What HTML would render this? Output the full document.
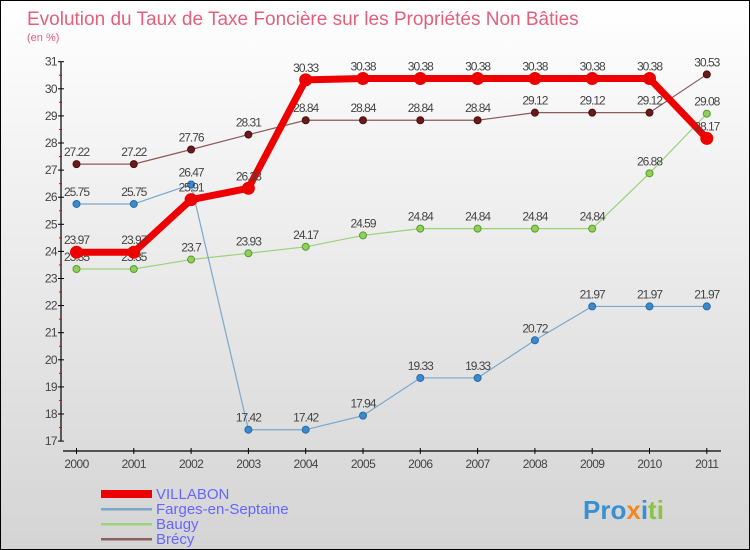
<!DOCTYPE html>
<html><head><meta charset="utf-8"><style>
body{margin:0}
#c{width:750px;height:550px;position:relative;overflow:hidden;box-sizing:border-box;border:1px solid #000;background:linear-gradient(#ffffff,#d4d4d4);font-family:"Liberation Sans",sans-serif}
svg text{font-family:"Liberation Sans",sans-serif}
</style></head><body>
<div id="c">
<svg id="s" width="750" height="550">
<text x="26" y="24" font-size="19" fill="#e3607a">Evolution du Taux de Taxe Foncière sur les Propriétés Non Bâties</text>
<text x="26" y="40" font-size="11" fill="#e3607a">(en %)</text>
<g id="g"></g>
<g>
<rect x="100" y="489" width="51" height="8" fill="#e00"/>
<text x="155" y="498" font-size="15" fill="#6666ff">VILLABON</text>
<rect x="100" y="507" width="51" height="2.5" fill="#7aa8cc"/>
<text x="155" y="513" font-size="15" fill="#6666ff">Farges-en-Septaine</text>
<rect x="100" y="522" width="51" height="2.5" fill="#9cd27a"/>
<text x="155" y="528" font-size="15" fill="#6666ff">Baugy</text>
<rect x="100" y="537" width="51" height="2.5" fill="#8b6060"/>
<text x="155" y="543" font-size="15" fill="#6666ff">Brécy</text>
</g>
<g>
<text x="582" y="518" font-size="26" font-weight="bold"><tspan fill="#3a8fd0">Pro</tspan><tspan fill="#f08a20">x</tspan><tspan fill="#3a8fd0">i</tspan><tspan fill="#8bc43f">ti</tspan></text>
</g>
</svg>
</div>
<script>
const years=[2000,2001,2002,2003,2004,2005,2006,2007,2008,2009,2010,2011];
const yTicks=[17,18,19,20,21,22,23,24,25,26,27,28,29,30,31];
const villabon=[23.97,23.97,25.91,26.33,30.33,30.38,30.38,30.38,30.38,30.38,30.38,28.17];
const farges=[25.75,25.75,26.47,17.42,17.42,17.94,19.33,19.33,20.72,21.97,21.97,21.97];
const baugy=[23.35,23.35,23.7,23.93,24.17,24.59,24.84,24.84,24.84,24.84,26.88,29.08];
const brecy=[27.22,27.22,27.76,28.31,28.84,28.84,28.84,28.84,29.12,29.12,29.12,30.53];
const NS="http://www.w3.org/2000/svg";
const g=document.getElementById('g');
const X=i=>75.5+i*57.3;
const Y=v=>60.7+(31-v)*27.1;
function mk(t,a,p){const e=document.createElementNS(NS,t);for(const k in a)e.setAttribute(k,a[k]);(p||g).appendChild(e);return e;}
let ax=mk('line',{x1:60,y1:Y(31),x2:60,y2:Y(17),stroke:'#000','stroke-width':1.2});


yTicks.forEach(v=>{
 mk('line',{x1:57,x2:63,y1:Y(v),y2:Y(v),stroke:'#000'});
 if(v<31)mk('line',{x1:58,x2:61,y1:Y(v+0.5),y2:Y(v+0.5),stroke:'#e00'});
 const t=mk('text',{x:56,y:Y(v)+4,'font-size':12,fill:'#444','text-anchor':'end','letter-spacing':'-0.6'});
 t.textContent=v;
 
 
});
let bx=mk('line',{x1:62,y1:450,x2:720,y2:450,stroke:'#000','stroke-width':1.2});


years.forEach((y,i)=>{
 mk('line',{x1:X(i),x2:X(i),y1:447,y2:453,stroke:'#000'});
 const t=mk('text',{x:X(i),y:467,'font-size':12,fill:'#444','text-anchor':'middle','letter-spacing':'-0.6'});
 t.textContent=y;
 
 
});
function series(name,data,color,w,r,dot,edge){
 const pts=data.map((v,i)=>X(i)+','+Y(v)).join(' ');
 const l=mk('polyline',{points:pts,fill:'none',stroke:color,'stroke-width':w,'stroke-linejoin':'round'});
 
 
 data.forEach((v,i)=>{
  const c=mk('circle',{cx:X(i),cy:Y(v),r:r,fill:dot,stroke:edge,'stroke-width':1});
  
  
  const t=mk('text',{x:X(i),y:Y(v)-8,'font-size':12,fill:'#444','text-anchor':'middle','letter-spacing':'-1'});
  t.textContent=v;
  
  
 });
}
series('brecy',brecy,'#8b5a5a',1.2,3.5,'#6a1a1a','#4a1010');
series('baugy',baugy,'#9cd27a',1.2,3.5,'#8fd05a','#5a9a30');
series('farges',farges,'#7aa8cc',1.2,3.5,'#3a8ad0','#2a6aa0');
series('villabon',villabon,'#ee0000',7,6,'#ee0000','#ee0000');
</script>
</body></html>
